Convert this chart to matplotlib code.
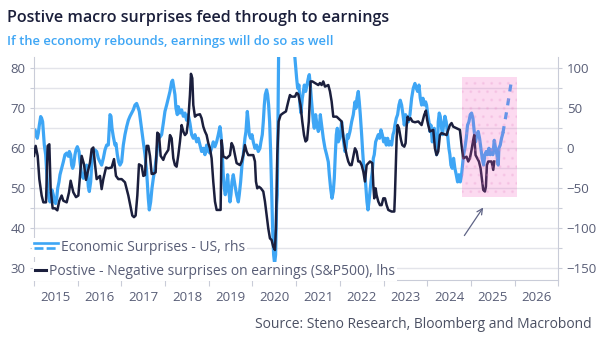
import numpy as np
import matplotlib
matplotlib.use("Agg")
import matplotlib.pyplot as plt
from matplotlib.lines import Line2D
from matplotlib.patches import Rectangle
from matplotlib.legend_handler import HandlerBase

# -------------------------------------------
# data (decimal years)
# positive - negative earnings surprises, S&P500 (lhs)
earn_years = [
    2015.000, 2015.038, 2015.084, 2015.122, 2015.175, 2015.214, 2015.275, 2015.313, 2015.351, 2015.381,
    2015.427, 2015.481, 2015.534, 2015.580, 2015.633, 2015.671, 2015.748, 2015.801, 2015.839, 2015.900,
    2015.961, 2016.015, 2016.053, 2016.091, 2016.144, 2016.190, 2016.228, 2016.281, 2016.320, 2016.358,
    2016.396, 2016.434, 2016.472, 2016.510, 2016.548, 2016.587, 2016.648, 2016.701, 2016.777, 2016.831,
    2016.876, 2016.930, 2017.006, 2017.082, 2017.159, 2017.212, 2017.250, 2017.288, 2017.326, 2017.365,
    2017.403, 2017.464, 2017.502, 2017.540, 2017.578, 2017.616, 2017.654, 2017.693, 2017.731, 2017.784,
    2017.822, 2017.860, 2017.899, 2017.959, 2017.997, 2018.074, 2018.112, 2018.150, 2018.188, 2018.226,
    2018.264, 2018.303, 2018.341, 2018.379, 2018.417, 2018.455, 2018.493, 2018.531, 2018.569, 2018.592,
    2018.623, 2018.646, 2018.684, 2018.722, 2018.798, 2018.836, 2018.875, 2018.913, 2018.951, 2018.989,
    2019.027, 2019.065, 2019.103, 2019.142, 2019.180, 2019.218, 2019.271, 2019.294, 2019.332, 2019.409,
    2019.485, 2019.523, 2019.561, 2019.599, 2019.637, 2019.714, 2019.752, 2019.790, 2019.828, 2019.866,
    2019.904, 2020.019, 2020.057, 2020.080, 2020.110, 2020.148, 2020.194, 2020.248, 2020.286, 2020.324,
    2020.362, 2020.400, 2020.438, 2020.476, 2020.515, 2020.537, 2020.568, 2020.599, 2020.645, 2020.705,
    2020.766, 2020.820, 2020.858, 2020.896, 2020.973, 2021.011, 2021.049, 2021.100, 2021.140, 2021.180,
    2021.215, 2021.250, 2021.290, 2021.330, 2021.370, 2021.431, 2021.507, 2021.545, 2021.583, 2021.621,
    2021.660, 2021.736, 2021.774, 2021.812, 2021.850, 2021.926, 2021.965, 2022.003, 2022.041, 2022.079,
    2022.117, 2022.155, 2022.193, 2022.232, 2022.270, 2022.308, 2022.346, 2022.384, 2022.422, 2022.460,
    2022.499, 2022.537, 2022.575, 2022.613, 2022.689, 2022.743, 2022.766, 2022.788, 2022.819, 2022.842,
    2022.880, 2022.918, 2022.956, 2022.995, 2023.033, 2023.071, 2023.109, 2023.185, 2023.246, 2023.261,
    2023.300, 2023.322, 2023.353, 2023.399, 2023.429, 2023.475, 2023.505, 2023.528, 2023.551, 2023.582,
    2023.620, 2023.660, 2023.720, 2023.795, 2023.871, 2023.930, 2023.970, 2024.000, 2024.023, 2024.061,
    2024.138, 2024.176, 2024.214, 2024.252, 2024.290, 2024.328, 2024.443, 2024.481, 2024.519, 2024.557,
    2024.595, 2024.672, 2024.748, 2024.786, 2024.824, 2024.900, 2024.939, 2024.977, 2025.015, 2025.053,
    2025.076, 2025.106, 2025.145, 2025.183, 2025.221, 2025.259, 2025.282, 2025.320, 2025.343, 2025.366,
    2025.396, 2025.434, 2025.472, 2025.511, 2025.534,
]
earn_values = [
    58.1, 60.6, 58.1, 52.3, 48.2, 46.5, 46.5, 60.6, 61.0, 49.8,
    45.0, 45.0, 44.5, 46.9, 48.2, 46.9, 46.5, 49.0, 51.9, 49.0,
    47.8, 48.2, 53.1, 58.1, 56.0, 52.1, 54.0, 56.4, 59.8, 60.2,
    56.0, 52.3, 52.7, 53.1, 49.8, 52.3, 55.2, 55.0, 55.2, 57.3,
    53.1, 52.3, 52.3, 51.5, 48.2, 45.3, 43.2, 42.8, 43.2, 48.2,
    56.0, 55.6, 53.1, 53.3, 60.6, 60.6, 58.1, 53.6, 53.6, 54.0,
    63.9, 63.5, 58.1, 57.1, 58.3, 59.6, 63.3, 62.5, 57.5, 55.8,
    55.4, 58.3, 61.7, 65.8, 64.2, 63.3, 63.8, 67.1, 73.3, 78.6,
    77.5, 70.8, 67.9, 68.3, 68.5, 67.5, 65.4, 64.2, 63.3, 61.3,
    60.0, 57.5, 51.7, 46.7, 44.6, 44.6, 44.6, 62.0, 58.0, 57.5,
    58.3, 61.3, 60.4, 58.3, 56.3, 55.8, 56.7, 58.3, 60.8, 59.2,
    58.3, 58.3, 56.7, 51.7, 50.0, 50.4, 50.0, 49.2, 46.7, 43.3,
    40.0, 37.5, 37.1, 35.4, 34.6, 40.0, 58.3, 66.7, 68.3, 68.8,
    69.2, 71.7, 73.3, 72.9, 72.9, 73.8, 73.5, 70.8, 66.7, 63.3,
    61.7, 62.1, 66.7, 76.7, 76.7, 76.3, 75.8, 76.3, 75.8, 76.7,
    75.4, 75.8, 74.2, 71.7, 67.9, 67.9, 67.5, 67.1, 66.7, 62.9,
    60.4, 58.3, 56.7, 55.8, 55.8, 57.9, 60.0, 59.2, 56.7, 56.7,
    55.8, 54.2, 51.7, 55.8, 56.7, 56.3, 50.8, 47.5, 50.0, 48.3,
    46.7, 45.8, 45.8, 47.5, 47.5, 45.8, 44.6, 44.2, 44.2, 48.3,
    62.5, 65.8, 65.0, 62.1, 60.8, 60.4, 61.3, 65.4, 67.9, 67.1,
    67.5, 66.7, 66.5, 66.7, 65.8, 68.3, 69.4, 67.0, 65.8, 64.2,
    64.6, 60.0, 58.3, 59.2, 63.3, 63.8, 63.3, 64.6, 65.8, 66.3,
    65.4, 65.0, 64.6, 60.8, 57.5, 57.9, 56.7, 57.5, 59.6, 62.1,
    63.3, 58.3, 57.5, 56.7, 55.0, 51.7, 49.6, 49.2, 50.4, 55.8,
    56.7, 56.7, 56.7, 54.6, 56.7,
]

# economic surprises - US (rhs)
esi_years = [
    2015.000, 2015.023, 2015.046, 2015.076, 2015.099, 2015.122, 2015.153, 2015.175, 2015.198, 2015.214,
    2015.236, 2015.267, 2015.290, 2015.313, 2015.343, 2015.366, 2015.389, 2015.412, 2015.442, 2015.465,
    2015.496, 2015.519, 2015.542, 2015.572, 2015.595, 2015.633, 2015.671, 2015.709, 2015.748, 2015.786,
    2015.809, 2015.839, 2015.862, 2015.885, 2015.908, 2015.938, 2015.961, 2015.992, 2016.030, 2016.053,
    2016.091, 2016.129, 2016.167, 2016.205, 2016.243, 2016.266, 2016.297, 2016.320, 2016.358, 2016.396,
    2016.434, 2016.472, 2016.510, 2016.548, 2016.587, 2016.625, 2016.663, 2016.701, 2016.739, 2016.762,
    2016.785, 2016.815, 2016.854, 2016.876, 2016.907, 2016.937, 2016.968, 2017.006, 2017.044, 2017.082,
    2017.121, 2017.159, 2017.197, 2017.235, 2017.273, 2017.311, 2017.349, 2017.388, 2017.410, 2017.441,
    2017.471, 2017.502, 2017.540, 2017.578, 2017.616, 2017.639, 2017.670, 2017.700, 2017.731, 2017.769,
    2017.807, 2017.845, 2017.883, 2017.921, 2017.959, 2017.997, 2018.036, 2018.074, 2018.112, 2018.150,
    2018.173, 2018.203, 2018.226, 2018.249, 2018.280, 2018.303, 2018.341, 2018.379, 2018.417, 2018.455,
    2018.493, 2018.531, 2018.570, 2018.608, 2018.646, 2018.684, 2018.722, 2018.760, 2018.798, 2018.836,
    2018.875, 2018.913, 2018.951, 2018.989, 2019.027, 2019.065, 2019.103, 2019.142, 2019.180, 2019.218,
    2019.256, 2019.279, 2019.302, 2019.332, 2019.355, 2019.378, 2019.409, 2019.432, 2019.454, 2019.485,
    2019.508, 2019.531, 2019.561, 2019.599, 2019.637, 2019.676, 2019.698, 2019.729, 2019.760, 2019.790,
    2019.828, 2019.851, 2019.882, 2019.905, 2019.927, 2019.958, 2019.989, 2020.019, 2020.057, 2020.095,
    2020.133, 2020.171, 2020.194, 2020.225, 2020.248, 2020.271, 2020.293, 2020.324, 2020.347, 2020.370,
    2020.393, 2020.416, 2020.438, 2020.461, 2020.484, 2020.507, 2020.530, 2020.553, 2020.568, 2020.583,
    2020.599, 2020.650, 2020.750, 2020.850, 2020.930, 2020.973, 2021.011, 2021.034, 2021.065, 2021.087,
    2021.110, 2021.141, 2021.164, 2021.187, 2021.217, 2021.248, 2021.278, 2021.301, 2021.324, 2021.354,
    2021.393, 2021.415, 2021.446, 2021.476, 2021.507, 2021.530, 2021.553, 2021.583, 2021.621, 2021.660,
    2021.698, 2021.736, 2021.759, 2021.789, 2021.820, 2021.850, 2021.873, 2021.896, 2021.919, 2021.942,
    2021.965, 2021.995, 2022.018, 2022.041, 2022.064, 2022.087, 2022.117, 2022.140, 2022.171, 2022.193,
    2022.232, 2022.270, 2022.308, 2022.346, 2022.369, 2022.392, 2022.422, 2022.445, 2022.468, 2022.499,
    2022.522, 2022.544, 2022.575, 2022.598, 2022.621, 2022.644, 2022.666, 2022.689, 2022.712, 2022.743,
    2022.766, 2022.788, 2022.819, 2022.849, 2022.880, 2022.910, 2022.941, 2022.972, 2023.002, 2023.033,
    2023.063, 2023.094, 2023.124, 2023.155, 2023.185, 2023.216, 2023.239, 2023.261, 2023.292, 2023.322,
    2023.353, 2023.383, 2023.414, 2023.445, 2023.475, 2023.505, 2023.536, 2023.567, 2023.605, 2023.643,
    2023.681, 2023.719, 2023.750, 2023.780, 2023.811, 2023.841, 2023.872, 2023.902, 2023.933, 2023.963,
    2023.985, 2024.008, 2024.039, 2024.061, 2024.084, 2024.115, 2024.138, 2024.161, 2024.191, 2024.214,
    2024.237, 2024.252, 2024.275, 2024.298, 2024.328, 2024.351, 2024.374, 2024.405, 2024.435, 2024.466,
    2024.496, 2024.519, 2024.542, 2024.573, 2024.603, 2024.633, 2024.664, 2024.695, 2024.725, 2024.756,
    2024.786, 2024.809, 2024.832, 2024.862, 2024.893, 2024.923, 2024.954, 2024.985, 2025.015, 2025.046,
    2025.076, 2025.106, 2025.137, 2025.167, 2025.198, 2025.229, 2025.259, 2025.290, 2025.320, 2025.351,
    2025.381, 2025.412, 2025.442, 2025.473, 2025.503, 2025.534, 2025.564, 2025.595, 2025.625, 2025.640,
    2025.671, 2025.701, 2025.732,
]
esi_values = [
    21, 23, 16.7, 12.5, 19, 29, 39.6, 37.5, 33, 21,
    4, -8, -29, -50, -62.5, -67, -58, -52, -58, -67,
    -69, -62.5, -50, -42, -33, -25, -17, -8, -6, -10,
    -4, -8, -21, -25, -21, -8, -2, 2, -4, -17,
    -33, -37.5, -29, -21, -48, -54, -42, -21, -4, -2,
    -4, -12.5, -17, -21, -12.5, -2, 4, 4, 42, 40,
    25, 14.6, 4, 6, -8, -17, -21, -17, 4, 17,
    27, 35, 40, 44, 48, 54, 56, 50, 46, 33,
    21, 8, -8, -29, -62.5, -77, -67, -50, -37.5, -25,
    -8, 12.5, 14, 17, 31, 46, 54, 62.5, 71, 83,
    85, 75, 67, 50, 42, 52, 44, 48, 40, 44,
    35, 42, 31, 17, 12.5, 17, 8, 12.5, 4, -4,
    0, -8, 4, -4, -6, 0, 8, 2, 8, 17,
    27, 17, 0, -33, -50, -58, -48, -33, -50, -67,
    -58, -42, -33, -46, -58, -67, -58, -42, -21, -8,
    12.5, 21, 46, 33, 17, 12.5, 17, 8, 0, 4,
    -4, 0, 8, 17, 33, 54, 67, 73, 67, 54,
    33, -4, -50, -100, -133, -144, -133, -71, -58, 33,
    120, 200, 240, 200, 140, 112, 87.5, 75, 79, 54,
    44, 62.5, 71, 79, 71, 79, 87.5, 92, 79, 58,
    33, 25, 42, 29, 21, 25, 42, 29, 12.5, 0,
    -8, -17, -33, -50, -62.5, -54, -37.5, -8, 17, 25,
    8, 12.5, 21, 33, 21, 8, -4, 0, 17, 12.5,
    21, 33, 42, 58, 50, 62.5, 71, 58, 42, 17,
    -4, -21, -33, -50, -67, -77, -67, -54, -42, -29,
    -12.5, -8, 8, 12.5, 17, 12.5, 23, 17, 8, 12.5,
    4, 12.5, 4, 8, 4, 17, 21, 29, 37.5, 42,
    54, 60, 54, 42, 29, 42, 37.5, 33, 42, 62.5,
    75, 81, 75, 71, 79, 62.5, 54, 62.5, 54, 58,
    54, 44, 33, 21, 29, 8, 12.5, 25, 8, -8,
    0, 33, 44, 40, 25, 17, 29, 40, 33, 17,
    0, -8, -21, -25, -12.5, -25, -33, -42, -33, -42,
    -33, -21, -8, 0, 12.5, 29, 33, 42, 44, 37.5,
    21, 8, 17, 21, 12.5, 0, -12.5, -21, -8, -4,
    -8, 0, -8, -2, -8, 10, 0, -8, -21, 0,
    4, 12.5, 19,
]

# dashed continuation of the surprise index
proj_years = [2025.732, 2025.830, 2025.915]
proj_values = [19, 50, 80]

year_labels = [str(y) for y in range(2015, 2027)]

# highlighted window (lhs units) and arrow
box_x = (2024.80, 2026.045)
box_y = (47.9, 77.75)
arrow_tail = (2024.85, 38.2)
arrow_head = (2025.28, 45.2)

# -------------------------------------------
NAVY = "#1b1f3d"
BLUE = "#3ea6f5"
TXT = "#585d76"
GRID = "#e3e4ea"
SPINE = "#c9ccd8"

plt.rcParams["font.family"] = ["Open Sans", "DejaVu Sans"]

fig = plt.figure(figsize=(6.02, 3.44), dpi=100)
ax = fig.add_axes([34 / 602, 64 / 344, 524.3 / 602, 223 / 344])
ax2 = ax.twinx()
# left axis (navy line) drawn on top of the right axis (blue line)
ax.set_zorder(ax2.get_zorder() + 1)
ax.patch.set_visible(False)

lo, hi = 27.1, 82.8
ax.set_ylim(lo, hi)
ax2.set_ylim((lo - 60) * 5, (hi - 60) * 5)
ax.set_xlim(2015, 2027)

ax2.plot(esi_years, esi_values, color=BLUE, lw=2.3, solid_joinstyle="round", zorder=3)
ax2.plot(proj_years, proj_values, color=BLUE, lw=2.3, ls=(0, (2.2, 2.2)), zorder=3)
ax.plot(earn_years, earn_values, color=NAVY, lw=1.8, solid_joinstyle="round", zorder=3)

# grid on the rhs axis, every 25
ax2.set_yticks(np.arange(-150, 101, 50))
ax2.set_yticks(np.arange(-125, 101, 50), minor=True)
ax2.grid(which="both", axis="y", color=GRID, lw=1.0, zorder=0)
ax2.set_axisbelow(True)

ax.set_yticks(np.arange(30, 81, 10))
ax.set_yticks(np.arange(35, 81, 10), minor=True)

ax.set_xticks(np.arange(2015, 2028))
ax.set_xticks(np.arange(2015.5, 2027, 1.0), minor=True)
ax.set_xticklabels([])
ax.set_xticklabels(year_labels, minor=True)

for a in (ax, ax2):
    a.tick_params(which="both", colors=SPINE, labelcolor=TXT, labelsize=9.5, length=3, width=0.8)
    for s in a.spines.values():
        s.set_color(SPINE)
        s.set_linewidth(0.8)
    a.spines["top"].set_visible(False)
ax.spines["right"].set_visible(False)
ax2.spines["left"].set_visible(False)
ax2.spines["bottom"].set_visible(False)
ax.tick_params(axis="x", which="major", length=4, pad=2)
ax.tick_params(axis="x", which="minor", length=0, pad=8)
ax.tick_params(axis="y", pad=3)
ax2.tick_params(axis="y", pad=3)

# pink highlight box with faint dots
box = Rectangle((box_x[0], box_y[0]), box_x[1] - box_x[0], box_y[1] - box_y[0],
                facecolor=(0.95, 0.35, 0.74, 0.22), edgecolor=(0.9, 0.55, 0.78, 0.18),
                lw=0, hatch="..", zorder=4)
ax.add_patch(box)

ax.annotate("", xy=arrow_head, xytext=arrow_tail,
            arrowprops=dict(arrowstyle="->", color="#5f6486", lw=0.9, mutation_scale=10,
                            shrinkA=0, shrinkB=0), zorder=5)


# legend handle: solid line above a dashed one
class DoubleLine(HandlerBase):
    def create_artists(self, legend, orig_handle, xdescent, ydescent, width, height, fontsize, trans):
        yc = height / 2 - ydescent
        x0, x1 = -xdescent, width - xdescent
        top = Line2D([x0, x1], [yc + 2.0, yc + 2.0], color=BLUE, lw=1.9, transform=trans)
        bot = Line2D([x0, x1], [yc - 1.4, yc - 1.4], color=BLUE, lw=1.9,
                     ls=(0, (3.4, 1.2)), transform=trans)
        return [top, bot]


esi_handle = Line2D([], [], color=BLUE)
earn_handle = Line2D([], [], color=NAVY, lw=2.2)

leg1 = ax.legend([esi_handle], ["Economic Surprises - US, rhs"],
                 handler_map={Line2D: DoubleLine()}, loc="center left",
                 bbox_to_anchor=(32 / 602, 1 - 247.5 / 344), bbox_transform=fig.transFigure,
                 frameon=True, facecolor="white", edgecolor="none", framealpha=1, fancybox=False,
                 borderpad=0.12, borderaxespad=0, handlelength=1.75, handletextpad=0.2,
                 fontsize=10, labelcolor=TXT)
leg1.set_zorder(6)
ax.add_artist(leg1)
leg2 = ax.legend([earn_handle], ["Postive - Negative surprises on earnings (S&P500), lhs"],
                 loc="center left", bbox_to_anchor=(33 / 602, 1 - 271.5 / 344),
                 bbox_transform=fig.transFigure, frameon=True, facecolor="white", edgecolor="none",
                 framealpha=1, fancybox=False, borderpad=0.12, borderaxespad=0,
                 handlelength=0.8, handletextpad=0.25, fontsize=10, labelcolor=TXT)
leg2.set_zorder(6)

fig.text(7 / 602, 1 - 18 / 344, "Postive macro surprises feed through to earnings",
         fontsize=11.6, fontweight="semibold", color="#1b1f3b", va="center", ha="left")
fig.text(7 / 602, 1 - 41 / 344, "If the economy rebounds, earnings will do so as well",
         fontsize=9.4, fontweight="semibold", color=BLUE, va="center", ha="left")
fig.text(592 / 602, 1 - 325 / 344, "Source: Steno Research, Bloomberg and Macrobond",
         fontsize=10, color="#4b5063", va="center", ha="right")

fig.savefig("out.png", dpi=100, facecolor="white")
